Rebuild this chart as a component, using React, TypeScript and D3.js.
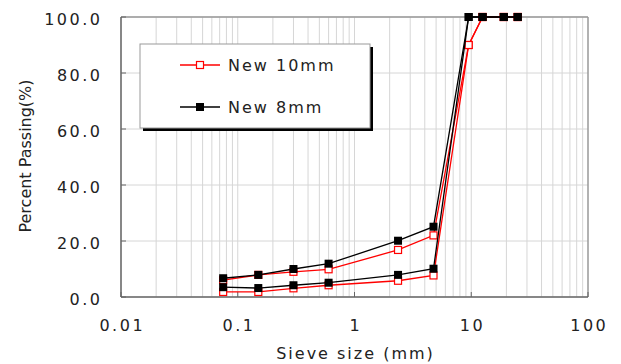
import React from "react";
import * as d3 from "d3";

const sieveSizes = [0.075, 0.15, 0.3, 0.6, 2.36, 4.75, 9.5, 12.5, 19, 25];
const red10Lower = [1.8, 1.8, 3.1, 4.2, 5.8, 7.7, 90, 100, 100, 100];
const red10Upper = [6.0, 7.9, 9.0, 9.9, 16.8, 22.0, 90, 100, 100, 100];
const black8Lower = [3.5, 3.2, 4.2, 5.1, 7.9, 10.1, 100, 100, 100, 100];
const black8Upper = [6.7, 7.9, 10.0, 11.9, 20.1, 25.1, 100, 100, 100, 100];
const xTicks = [0.01, 0.1, 1, 10, 100];
const xTickLabels = ["0.01", "0.1", "1", "10", "100"];
const yTicks = [0, 20, 40, 60, 80, 100];
const legendLabels = ["New 10mm", "New 8mm"];

const W = 621;
const H = 364;
const L = 121, R = 588, T = 17, B = 297;
const FONT = "'DejaVu Sans', sans-serif";
const TXT = "#222";

export default function App() {
  const x = d3.scaleLog().domain([0.01, 100]).range([L, R]);
  const y = d3.scaleLinear().domain([0, 100]).range([B, T]);
  const line = d3
    .line<[number, number]>()
    .x((d) => x(d[0]))
    .y((d) => y(d[1]));
  const pts = (vals: number[]) => sieveSizes.map((s, i) => [s, vals[i]] as [number, number]);

  const minor: number[] = [];
  for (let e = -2; e < 2; e++) {
    for (let k = 1; k <= 9; k++) minor.push(k * Math.pow(10, e));
  }

  const redSeries = [red10Lower, red10Upper];
  const blackSeries = [black8Lower, black8Upper];

  return (
    <svg
      width={W}
      height={H}
      style={{ position: "absolute", left: 0, top: 0, background: "#fff" }}
      fontFamily={FONT}
    >
      <rect x={0} y={0} width={W} height={H} fill="#fff" />
      {/* grid */}
      {minor.map((v, i) => (
        <line key={"vg" + i} x1={x(v)} x2={x(v)} y1={T} y2={B} stroke="#d6d6d6" strokeWidth={1} />
      ))}
      {yTicks.map((v) => (
        <line key={"hg" + v} x1={L} x2={R} y1={y(v)} y2={y(v)} stroke="#d6d6d6" strokeWidth={1} />
      ))}
      {/* border */}
      <line x1={L} x2={R} y1={T} y2={T} stroke="#999" strokeWidth={1.5} />
      <line x1={R} x2={R} y1={T} y2={B} stroke="#999" strokeWidth={1.5} />
      <line x1={L} x2={L} y1={T} y2={B} stroke="#666" strokeWidth={1.5} />
      <line x1={L} x2={R} y1={B} y2={B} stroke="#666" strokeWidth={1.5} />
      {/* ticks */}
      {xTicks.map((v) => (
        <line key={"xt" + v} x1={x(v)} x2={x(v)} y1={B} y2={B - 5} stroke="#666" strokeWidth={1} />
      ))}
      {yTicks.map((v) => (
        <line key={"yt" + v} x1={L} x2={L + 5} y1={y(v)} y2={y(v)} stroke="#666" strokeWidth={1} />
      ))}
      {/* tick labels */}
      {yTicks.map((v) => (
        <text
          key={"yl" + v}
          x={100 + 2.5}
          y={y(v) + 7.5}
          textAnchor="end"
          fontSize={16}
          letterSpacing={2.5}
          fill={TXT}
        >
          {v.toFixed(1)}
        </text>
      ))}
      {xTicks.map((v, i) => (
        <text
          key={"xl" + v}
          x={x(v) + 1.25}
          y={331}
          textAnchor="middle"
          fontSize={16}
          letterSpacing={2.5}
          fill={TXT}
        >
          {xTickLabels[i]}
        </text>
      ))}
      {/* axis titles */}
      <text x={(L + R) / 2 + 1} y={359} textAnchor="middle" fontSize={16} letterSpacing={2} fill={TXT}>
        Sieve size (mm)
      </text>
      <text
        transform={`translate(31,${(T + B) / 2 - 1}) rotate(-90)`}
        textAnchor="middle"
        fontSize={16}
        fill={TXT}
      >
        Percent Passing(%)
      </text>
      {/* red series */}
      {redSeries.map((vals, si) => (
        <g key={"r" + si}>
          <path d={line(pts(vals)) || ""} fill="none" stroke="#ff0000" strokeWidth={1.3} />
        </g>
      ))}
      {redSeries.map((vals, si) => (
        <g key={"rm" + si}>
          {pts(vals).map((p, i) => (
            <rect
              key={i}
              x={x(p[0]) - 3.5}
              y={y(p[1]) - 3.5}
              width={7}
              height={7}
              fill="#fff"
              stroke="#ff0000"
              strokeWidth={1.2}
            />
          ))}
        </g>
      ))}
      {/* black series */}
      {blackSeries.map((vals, si) => (
        <path key={"b" + si} d={line(pts(vals)) || ""} fill="none" stroke="#000" strokeWidth={1.3} />
      ))}
      {blackSeries.map((vals, si) => (
        <g key={"bm" + si}>
          {pts(vals).map((p, i) => (
            <rect key={i} x={x(p[0]) - 4} y={y(p[1]) - 4} width={8} height={8} fill="#000" />
          ))}
        </g>
      ))}
      {/* legend */}
      <rect x={143} y={47} width={230} height={84} fill="#000" />
      <rect x={140} y={44} width={230} height={84} fill="#fff" stroke="#999" strokeWidth={1} />
      <line x1={180} x2={220} y1={65} y2={65} stroke="#ff0000" strokeWidth={1.3} />
      <rect x={196.5} y={61.5} width={7} height={7} fill="#fff" stroke="#ff0000" strokeWidth={1.2} />
      <text x={228} y={71} fontSize={16} letterSpacing={2} fill={TXT}>
        {legendLabels[0]}
      </text>
      <line x1={180} x2={220} y1={107} y2={107} stroke="#000" strokeWidth={1.3} />
      <rect x={196} y={103} width={8} height={8} fill="#000" />
      <text x={228} y={113} fontSize={16} letterSpacing={2} fill={TXT}>
        {legendLabels[1]}
      </text>
    </svg>
  );
}
